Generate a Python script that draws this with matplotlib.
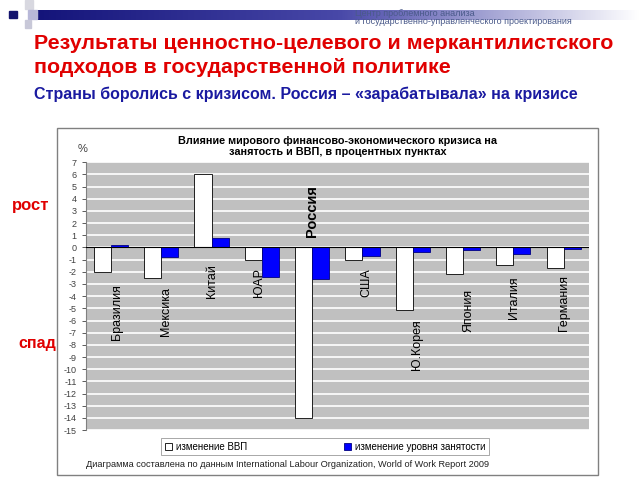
import numpy as np
import matplotlib
matplotlib.use('Agg')
import matplotlib.pyplot as plt
from matplotlib.patches import Rectangle
from matplotlib.colors import LinearSegmentedColormap

# %% data
countries = ['Бразилия', 'Мексика', 'Китай', 'ЮАР', 'Россия', 'США',
             'Ю.Корея', 'Япония', 'Италия', 'Германия']
gdp_change = [-2.0, -2.5, 6.0, -1.0, -14.0, -1.0, -5.1, -2.2, -1.4, -1.7]
empl_change = [0.2, -0.8, 0.8, -2.4, -2.6, -0.7, -0.4, -0.2, -0.5, -0.1]
yticks = list(range(-15, 8))

# %% where the country names sit (layout only)
label_y = [-5.3, -5.3, -2.8, -2.9, 3.0, -2.9, -8.0, -5.2, -4.1, -4.6]
label_dx = [0.12, 0.1, 0.0, -0.05, 0.0, 0.08, 0.08, 0.1, 0.02, 0.0]

plt.rcParams['font.family'] = ['Liberation Sans', 'DejaVu Sans']
plt.rcParams['axes.unicode_minus'] = False

fig = plt.figure(figsize=(6.4, 4.8), dpi=100)

# %% slide header decoration
deco = fig.add_axes([0, 0, 1, 1], zorder=-5)
deco.set_xlim(0, 640)
deco.set_ylim(480, 0)
deco.axis('off')
grad = np.linspace(0, 1, 256).reshape(1, -1)
cmap = LinearSegmentedColormap.from_list('hdr', ['#14147a', '#4848a8', '#ffffff'])
deco.imshow(grad, cmap=cmap, extent=[37, 640, 20, 10], aspect='auto')
deco.add_patch(Rectangle((9, 11), 8, 7, color='#14146e'))
deco.add_patch(Rectangle((25, 0), 8, 9, color='#d8d8e0'))
deco.add_patch(Rectangle((28, 10), 9, 9, color='#b8b8d8'))
deco.add_patch(Rectangle((25, 20), 6, 8, color='#c8c8d8'))
# chart frame
deco.add_patch(Rectangle((57, 128), 541, 347, fill=False, ec='#808080', lw=1))

fig.text(0.555, 0.966, 'Центр проблемного анализа', fontsize=6.5, color='#4a5a8a')
fig.text(0.555, 0.949, 'и государственно-управленческого проектирования',
         fontsize=6.5, color='#4a5a8a')
fig.text(0.053, 0.898, 'Результаты ценностно-целевого и меркантилистского',
         fontsize=15.4, fontweight='bold', color='#e00000')
fig.text(0.053, 0.848, 'подходов в государственной политике',
         fontsize=15.4, fontweight='bold', color='#e00000')
fig.text(0.053, 0.793, 'Страны боролись с кризисом. Россия – «зарабатывала» на кризисе',
         fontsize=11.5, fontweight='bold', color='#1a1aa0')
fig.text(0.018, 0.563, 'рост', fontsize=12, fontweight='bold', color='#e00000')
fig.text(0.028, 0.275, 'спад', fontsize=11.5, fontweight='bold', color='#e00000')

# %% chart
ax = fig.add_axes([0.134, 0.104, 0.786, 0.558])
ax.set_facecolor('#c0c0c0')
x = np.arange(len(countries))
w = 0.34
ax.bar(x - w / 2, gdp_change, w, color='white', edgecolor='black', lw=0.6,
       label='изменение ВВП', zorder=3)
ax.bar(x + w / 2, empl_change, w, color='#0000ff', edgecolor='#000080', lw=0.6,
       label='изменение уровня занятости', zorder=3)
for i, name in enumerate(countries):
    big = name == 'Россия'
    ax.text(i + label_dx[i], label_y[i], name, rotation=90,
            ha='center', va='center', fontsize=10.5 if big else 9,
            fontweight='bold' if big else 'normal', zorder=4)
ax.axhline(0, color='black', lw=0.8, zorder=4)
ax.set_ylim(-15, 7)
ax.set_xlim(-0.5, len(countries) - 0.5)
ax.set_yticks(yticks)
ax.yaxis.grid(True, color='white', lw=1.2)
ax.set_axisbelow(True)
ax.tick_params(axis='y', labelsize=6.5, colors='#404040', length=3, width=0.6)
ax.set_xticks([])
for s in ax.spines.values():
    s.set_visible(False)
ax.spines['left'].set_visible(True)
ax.spines['left'].set_color('#808080')
ax.text(-0.016, 1.04, '%', transform=ax.transAxes, fontsize=8, color='#404040')
ax.set_title('Влияние мирового финансово-экономического кризиса на\n'
             'занятость и ВВП, в процентных пунктах',
             fontsize=7.8, fontweight='bold', pad=5)

leg = ax.legend(loc='upper center', bbox_to_anchor=(0.476, -0.01), ncol=2,
                fontsize=7, frameon=True, fancybox=False, edgecolor='#808080',
                handlelength=0.7, handleheight=0.7, columnspacing=10,
                handletextpad=0.4, borderpad=0.4)
leg.get_frame().set_linewidth(0.6)

fig.text(0.134, 0.027, 'Диаграмма составлена по данным International Labour Organization, '
         'World of Work Report 2009', fontsize=6.6, color='#202020')

fig.savefig('out.png', dpi=100)
